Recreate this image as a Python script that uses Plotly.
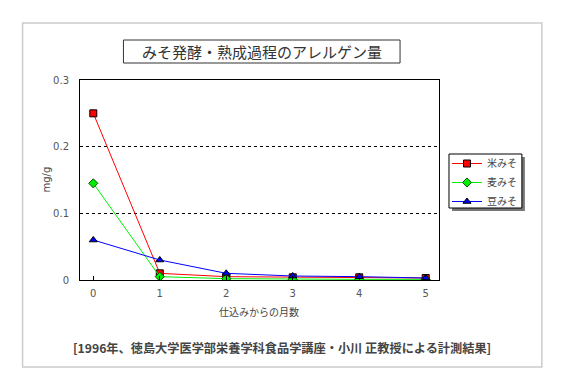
import plotly.graph_objects as go

months = [0, 1, 2, 3, 4, 5]
kome = [0.250, 0.010, 0.005, 0.004, 0.004, 0.003]
mugi = [0.145, 0.005, 0.002, 0.001, 0.001, 0.001]
mame = [0.060, 0.030, 0.010, 0.006, 0.005, 0.003]
series_names = ["米みそ", "麦みそ", "豆みそ"]
y_ticks = [0, 0.1, 0.2, 0.3]
y_tick_labels = ["0", "0.1", "0.2", "0.3"]

FONT = "Noto Sans CJK JP"
NUMFONT = "DejaVu Sans"
OFF = 8                     # page body margin
W, H = 564 - OFF, 389 - OFF
L, R, T, B = 79.5, 439, 80, 280  # plot area in window pixels

def px(x):
    return (x - L) / (R - L)

def py(y):
    return (B - y) / (B - T)

fig = go.Figure()
fig.add_trace(go.Scatter(x=months, y=kome, name=series_names[0], mode="lines+markers",
                         line=dict(color="#ff0000", width=1),
                         marker=dict(symbol="square", size=7, color="#ff0000",
                                     line=dict(color="black", width=1))))
fig.add_trace(go.Scatter(x=months, y=mugi, name=series_names[1], mode="lines+markers",
                         line=dict(color="#00ee00", width=1),
                         marker=dict(symbol="diamond", size=7, color="#00ee00",
                                     line=dict(color="#005500", width=1))))
fig.add_trace(go.Scatter(x=months, y=mame, name=series_names[2], mode="lines+markers",
                         line=dict(color="#0000ff", width=1),
                         marker=dict(symbol="triangle-up", size=7, color="#0000ff",
                                     line=dict(color="black", width=1))))

shapes = [
    # outer frame
    dict(type="rect", xref="paper", yref="paper", x0=px(22), x1=px(542), y0=py(23), y1=py(367),
         line=dict(color="#cccccc", width=1.5), layer="below"),
    # title box
    dict(type="rect", xref="paper", yref="paper", x0=px(123), x1=px(400), y0=py(40), y1=py(63),
         line=dict(color="#333333", width=1)),
    # legend shadow + box
    dict(type="rect", xref="paper", yref="paper", x0=px(452), x1=px(525), y0=py(157), y1=py(211),
         line=dict(width=0), fillcolor="#777777", layer="below"),
    dict(type="rect", xref="paper", yref="paper", x0=px(449), x1=px(522), y0=py(154), y1=py(208),
         line=dict(color="black", width=1), fillcolor="white", layer="below"),
]

annotations = [
    dict(text="みそ発酵・熟成過程のアレルゲン量", xref="paper", yref="paper",
         x=px(261.5), y=py(51.5), showarrow=False, xanchor="center", yanchor="middle",
         font=dict(family=FONT, size=15, color="#333333")),
    dict(text="仕込みからの月数", xref="paper", yref="paper",
         x=px(259), y=py(311), showarrow=False, xanchor="center", yanchor="middle",
         font=dict(family=FONT, size=10, color="#444444")),
    dict(text="<b>[1996年、徳島大学医学部栄養学科食品学講座・小川 正教授による計測結果]</b>",
         xref="paper", yref="paper",
         x=px(282), y=py(348), showarrow=False, xanchor="center", yanchor="middle",
         font=dict(family=FONT, size=12.2, color="#444444")),
    dict(text="mg/g", xref="paper", yref="paper", textangle=-90,
         x=px(45), y=py(180), showarrow=False, xanchor="center", yanchor="middle",
         font=dict(family=NUMFONT, size=10, color="#444444")),
]

fig.update_layout(
    width=W, height=H,
    margin=dict(l=L - OFF, r=564 - R, t=T - OFF, b=389 - B, pad=0),
    paper_bgcolor="white", plot_bgcolor="white",
    shapes=shapes, annotations=annotations,
    showlegend=True,
    legend=dict(x=px(447), y=py(149), xanchor="left", yanchor="top",
                bgcolor="rgba(0,0,0,0)", borderwidth=0,
                font=dict(family=FONT, size=10, color="#444444"),
                tracegroupgap=0),
    xaxis=dict(range=[-0.2, 5.2], tickvals=months, ticks="inside", ticklen=4,
               tickcolor="black", showgrid=False, zeroline=False,
               showline=True, linecolor="black", linewidth=1, mirror=True,
               ticklabelstandoff=4,
               tickfont=dict(family=NUMFONT, size=10, color="#555555")),
    yaxis=dict(range=[0, 0.3], tickvals=y_ticks, ticktext=y_tick_labels, ticks="",
               showgrid=True, gridcolor="black", griddash="dot", gridwidth=1,
               zeroline=False, showline=True, linecolor="black", linewidth=1, mirror=True,
               ticklabelstandoff=8,
               tickfont=dict(family=NUMFONT, size=10, color="#555555")),
)

fig.write_html("out.html")
